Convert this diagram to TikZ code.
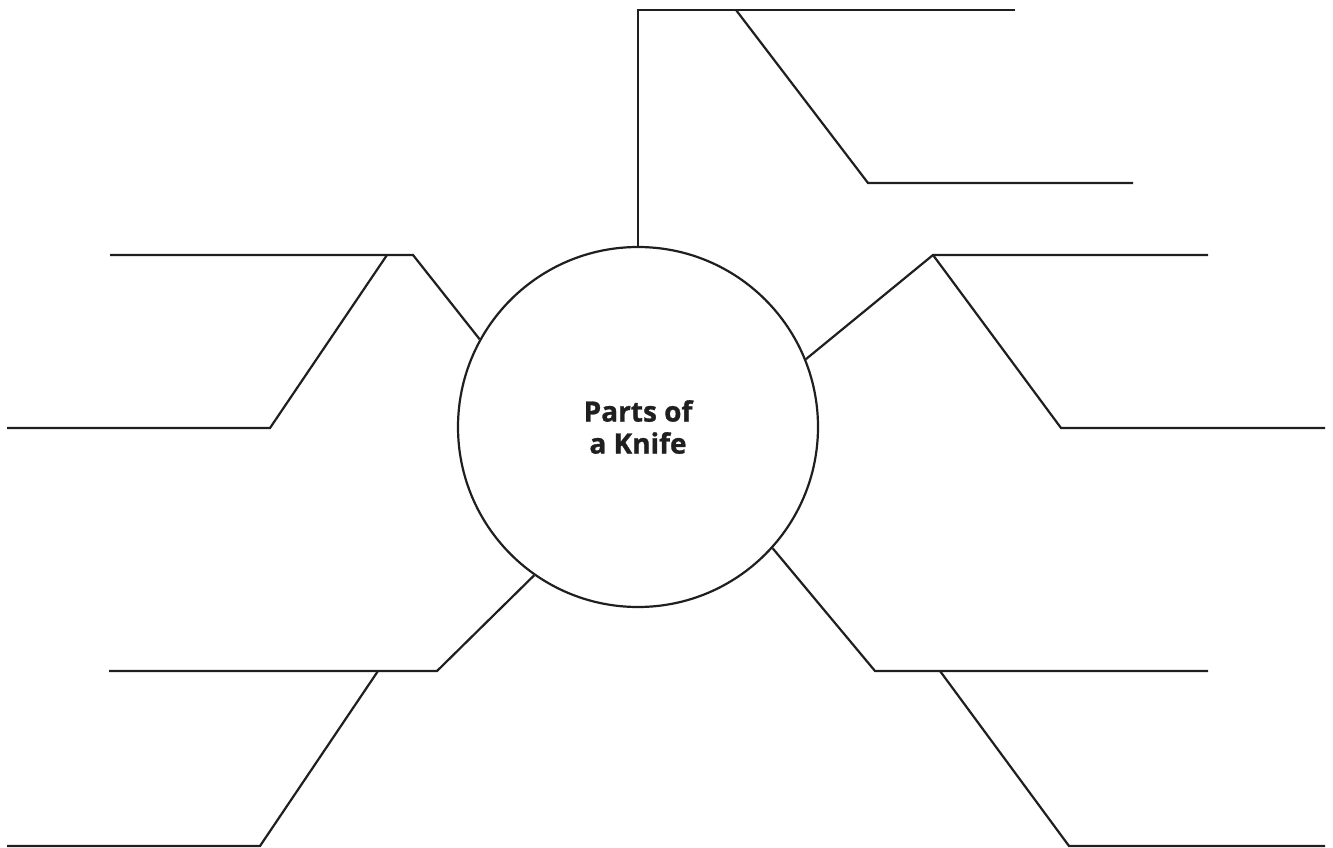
\documentclass[tikz,border=0pt]{standalone}
\usepackage{fontspec}
\setmainfont{Open Sans}[BoldFeatures={FakeBold=1}]
\begin{document}
\begin{tikzpicture}[x=1pt,y=-1pt,
  ln/.style={line width=2.2pt,color=black!88,line join=miter},
  hub/.style={circle,draw=black!88,line width=2.2pt,minimum size=360pt,inner sep=0pt,
    font=\bfseries\fontsize{28}{32}\selectfont,align=center,text=black!88}]
\useasboundingbox (0,0) rectangle (1333,848);
\node[hub] (c) at (638,427) {Parts of\\a Knife};
% top
\coordinate (t1) at (640,10);
\coordinate (t2) at (1015,10);
\coordinate (tb) at (736,10);
\coordinate (tc) at (868,183);
\coordinate (te) at (1133,183);
\draw[ln] (c.north) -- (c.north |- t1) -- (t2);
\draw[ln] (tb) -- (tc) -- (te);
% left upper
\coordinate (lu1) at (413,255);
\coordinate (lu2) at (110,255);
\coordinate (lub) at (387,255);
\coordinate (luc) at (270,428);
\coordinate (lue) at (7,428);
\draw[ln] (c.151.5) -- (lu1) -- (lu2);
\draw[ln] (lub) -- (luc) -- (lue);
% right upper
\coordinate (ru1) at (933,255);
\coordinate (ru2) at (1208,255);
\coordinate (ruc) at (1061,428);
\coordinate (rue) at (1325,428);
\draw[ln] (c.22.5) -- (ru1) -- (ru2);
\draw[ln] (ru1) -- (ruc) -- (rue);
% left lower
\coordinate (ll1) at (437,671);
\coordinate (ll2) at (109,671);
\coordinate (llb) at (378,671);
\coordinate (llc) at (260,846);
\coordinate (lle) at (7,846);
\draw[ln] (c.235.5) -- (ll1) -- (ll2);
\draw[ln] (llb) -- (llc) -- (lle);
% right lower
\coordinate (rl1) at (875,671);
\coordinate (rl2) at (1208,671);
\coordinate (rlb) at (940,671);
\coordinate (rlc) at (1069,846);
\coordinate (rle) at (1325,846);
\draw[ln] (c.-42.5) -- (rl1) -- (rl2);
\draw[ln] (rlb) -- (rlc) -- (rle);
\end{tikzpicture}
\end{document}
